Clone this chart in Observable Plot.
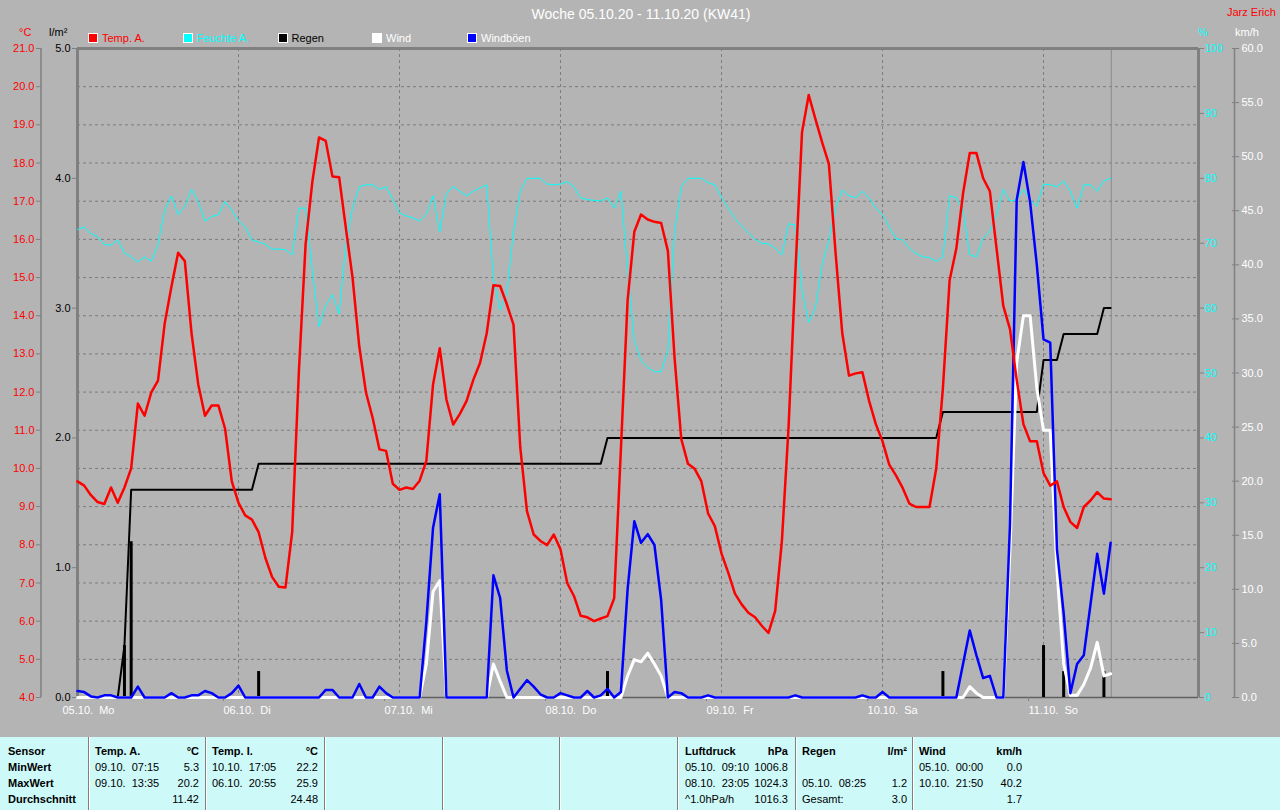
<!DOCTYPE html>
<html>
<head>
<meta charset="utf-8">
<script src="https://cdn.jsdelivr.net/npm/d3@7"></script>
<script src="https://cdn.jsdelivr.net/npm/@observablehq/plot@0.6"></script>
<style>
  html, body { margin: 0; padding: 0; background: #b4b4b4; }
  #wrap { position: relative; width: 1280px; height: 810px; overflow: hidden; background: #b4b4b4;
          font-family: "Liberation Sans", Arial, sans-serif; }
  #wrap svg { position: absolute; left: 0; top: 0; overflow: visible; }
  #wrap svg text { white-space: pre; }
  .abs { position: absolute; white-space: pre; font-size: 11px; line-height: 12px; }
  .sq { position: absolute; width: 8px; height: 8px; border: 1px solid #fff; }
  #table { position: absolute; left: 0; top: 737px; width: 1280px; height: 73px; background: #cdf9f9; }
  .sep { position: absolute; top: 0; width: 1px; height: 73px; background: #7f7f7f; border-right: 1px solid #fff; }
  .cell { position: absolute; font-size: 11px; line-height: 16px; white-space: pre; color: #000; }
</style>
</head>
<body>
<div id="wrap"></div>
<script>
// ---------------- data (hourly values from 05.10. 00:00) ----------------
const title = "Woche 05.10.20 - 11.10.20 (KW41)";
const author = "Jarz Erich";
const seriesNames = ["Temp. A.", "Feuchte A.", "Regen", "Wind", "Windböen"];
const seriesColors = ["#ff0000", "#00ffff", "#000000", "#ffffff", "#0000ff"];
const legendTextColors = ["#ff0000", "#00ffff", "#000000", "#ffffff", "#ffffff"];

const dayTicks = [0, 24, 48, 72, 96, 120, 144];
const dayLabels = ["05.10.  Mo", "06.10.  Di", "07.10.  Mi", "08.10.  Do", "09.10.  Fr", "10.10.  Sa", "11.10.  So"];
const xEnd = 167.1;      // right edge of the plot, hours
const nowHour = 154.1;   // grey "now" marker

const tempTicks = [4, 5, 6, 7, 8, 9, 10, 11, 12, 13, 14, 15, 16, 17, 18, 19, 20, 21];
const rainTicks = [0, 1, 2, 3, 4, 5];
const humTicks = [0, 10, 20, 30, 40, 50, 60, 70, 80, 90, 100];
const windTicks = [0, 5, 10, 15, 20, 25, 30, 35, 40, 45, 50, 55, 60];

const temperature = [
  9.66, 9.55, 9.30, 9.12, 9.07, 9.5, 9.1, 9.5, 10.0, 11.7,
  11.38, 11.99, 12.3, 13.8, 14.76, 15.65, 15.43, 13.54, 12.2, 11.38,
  11.65, 11.65, 11.04, 9.66, 9.1, 8.77, 8.66, 8.33, 7.66, 7.16,
  6.9, 6.88, 8.33, 12.54, 15.87, 17.5, 18.67, 18.58, 17.65, 17.63,
  16.3, 15.0, 13.2, 11.99, 11.32, 10.5, 10.46, 9.6, 9.44, 9.5,
  9.46, 9.68, 10.2, 12.2, 13.15, 11.8, 11.15, 11.43, 11.77, 12.32,
  12.76, 13.54, 14.8, 14.78, 14.3, 13.76, 10.55, 8.88, 8.27, 8.1,
  7.99, 8.27, 7.88, 7.0, 6.66, 6.14, 6.1, 6.0, 6.07, 6.13,
  6.6, 10.5, 14.4, 16.2, 16.65, 16.52, 16.46, 16.43, 15.7, 12.9,
  10.77, 10.12, 9.99, 9.66, 8.82, 8.49, 7.77, 7.27, 6.72, 6.44,
  6.22, 6.1, 5.88, 5.69, 6.27, 8.1, 11.1, 15.1, 18.81, 19.78,
  19.15, 18.54, 17.98, 15.65, 13.54, 12.43, 12.49, 12.52, 11.77, 11.16,
  10.71, 10.1, 9.82, 9.49, 9.08, 8.99, 8.99, 8.99, 9.99, 12.1,
  14.93, 15.76, 17.2, 18.26, 18.26, 17.6, 17.26, 15.76, 14.26, 13.65,
  12.32, 11.16, 10.71, 10.71, 9.88, 9.55, 9.66, 8.99, 8.6, 8.44,
  8.99, 9.16, 9.38, 9.21, 9.19
];
const humidity = [
  72.1, 72.5, 71.5, 71.0, 69.8, 69.7, 70.5, 68.5, 67.9, 67.1,
  67.9, 67.2, 69.8, 75.1, 77.3, 74.4, 75.7, 78.3, 76.4, 73.4,
  74.1, 74.4, 76.4, 75.1, 73.4, 72.5, 70.5, 70.2, 69.8, 69.1,
  69.1, 69.0, 68.2, 75.4, 75.4, 65.9, 57.1, 60.4, 62.1, 59.1,
  69.8, 75.4, 78.7, 79.0, 79.0, 78.3, 78.7, 76.7, 74.7, 74.2,
  73.9, 73.4, 74.4, 77.3, 71.7, 77.7, 78.7, 78.0, 77.3, 78.0,
  78.5, 79.0, 64.6, 59.7, 62.3, 71.8, 78.0, 80.0, 80.0, 80.0,
  79.1, 79.0, 79.1, 79.5, 78.7, 77.0, 76.7, 76.6, 76.5, 77.0,
  75.4, 78.0, 65.9, 55.0, 51.9, 50.9, 50.2, 50.2, 53.5, 71.8,
  78.7, 80.0, 80.0, 80.0, 79.3, 79.0, 77.0, 75.4, 73.8, 72.6,
  71.6, 70.6, 70.0, 69.9, 69.2, 68.2, 73.0, 72.8, 62.7, 57.8,
  60.1, 66.6, 70.5, 75.4, 78.2, 77.3, 77.0, 78.0, 77.0, 75.4,
  74.4, 72.5, 70.7, 70.5, 69.2, 68.4, 67.9, 67.8, 67.2, 67.9,
  77.3, 77.0, 75.1, 68.2, 67.9, 70.8, 71.8, 74.4, 78.3, 76.5,
  76.7, 78.3, 76.7, 75.7, 79.1, 79.0, 78.7, 79.6, 78.0, 75.4,
  79.0, 79.0, 78.0, 79.6, 80.0
];
const rainTotal = [
  0, 0, 0, 0, 0, 0, 0, 0.4, 1.6, 1.6,
  1.6, 1.6, 1.6, 1.6, 1.6, 1.6, 1.6, 1.6, 1.6, 1.6,
  1.6, 1.6, 1.6, 1.6, 1.6, 1.6, 1.6, 1.8, 1.8, 1.8,
  1.8, 1.8, 1.8, 1.8, 1.8, 1.8, 1.8, 1.8, 1.8, 1.8,
  1.8, 1.8, 1.8, 1.8, 1.8, 1.8, 1.8, 1.8, 1.8, 1.8,
  1.8, 1.8, 1.8, 1.8, 1.8, 1.8, 1.8, 1.8, 1.8, 1.8,
  1.8, 1.8, 1.8, 1.8, 1.8, 1.8, 1.8, 1.8, 1.8, 1.8,
  1.8, 1.8, 1.8, 1.8, 1.8, 1.8, 1.8, 1.8, 1.8, 2.0,
  2.0, 2.0, 2.0, 2.0, 2.0, 2.0, 2.0, 2.0, 2.0, 2.0,
  2.0, 2.0, 2.0, 2.0, 2.0, 2.0, 2.0, 2.0, 2.0, 2.0,
  2.0, 2.0, 2.0, 2.0, 2.0, 2.0, 2.0, 2.0, 2.0, 2.0,
  2.0, 2.0, 2.0, 2.0, 2.0, 2.0, 2.0, 2.0, 2.0, 2.0,
  2.0, 2.0, 2.0, 2.0, 2.0, 2.0, 2.0, 2.0, 2.0, 2.2,
  2.2, 2.2, 2.2, 2.2, 2.2, 2.2, 2.2, 2.2, 2.2, 2.2,
  2.2, 2.2, 2.2, 2.2, 2.6, 2.6, 2.6, 2.8, 2.8, 2.8,
  2.8, 2.8, 2.8, 3.0, 3.0
];
const rainHours = [7, 8, 27, 79, 129, 144, 147, 153];
const rainAmounts = [0.4, 1.2, 0.2, 0.2, 0.2, 0.4, 0.2, 0.2];
const wind = [
  0, 0, 0, 0, 0, 0, 0, 0, 0, 0,
  0, 0, 0, 0, 0, 0, 0, 0, 0, 0,
  0, 0, 0, 0, 0, 0, 0, 0, 0, 0,
  0, 0, 0, 0, 0, 0, 0, 0, 0, 0,
  0, 0, 0, 0, 0, 0, 0, 0, 0, 0,
  0, 0, 3.1, 9.8, 10.8, 0, 0, 0, 0, 0,
  0, 0, 3.1, 1.5, 0, 0, 0, 0, 0, 0,
  0, 0, 0, 0, 0, 0, 0, 0, 0, 0,
  0, 0, 2.0, 3.5, 3.3, 4.1, 3.1, 2.0, 0, 0,
  0, 0, 0, 0, 0, 0, 0, 0, 0, 0,
  0, 0, 0, 0, 0, 0, 0, 0, 0, 0,
  0, 0, 0, 0, 0, 0, 0, 0, 0, 0,
  0, 0, 0, 0, 0, 0, 0, 0, 0, 0,
  0, 0, 0, 1.0, 0.4, 0, 0, 0, 0, 13.7,
  31.0, 35.3, 35.3, 28.6, 24.7, 24.7, 11.8, 3.1, 0.2, 0.2,
  1.2, 2.7, 5.1, 2.0, 2.2
];
const gusts = [
  0.6, 0.5, 0.1, 0, 0.2, 0.2, 0, 0, 0, 1.0,
  0, 0, 0, 0, 0.4, 0, 0, 0.2, 0.2, 0.6,
  0.4, 0, 0, 0.4, 1.1, 0, 0, 0, 0, 0,
  0, 0, 0, 0, 0, 0, 0, 0.7, 0.7, 0,
  0, 0, 1.25, 0, 0, 1.0, 0.4, 0, 0, 0,
  0, 0, 7.0, 15.7, 18.8, 0, 0, 0, 0, 0,
  0, 0, 11.3, 9.2, 2.5, 0, 0.8, 1.6, 1.0, 0.3,
  0, 0, 0.4, 0.2, 0, 0, 0.6, 0, 0.2, 0.8,
  0, 0.5, 10.0, 16.3, 14.3, 15.1, 14.1, 9.0, 0, 0.5,
  0.4, 0, 0, 0, 0.2, 0, 0, 0, 0, 0,
  0, 0, 0, 0, 0, 0, 0, 0.2, 0, 0,
  0, 0, 0, 0, 0, 0, 0, 0.2, 0, 0,
  0.5, 0, 0, 0, 0, 0, 0, 0, 0, 0,
  0, 0, 3.1, 6.2, 3.9, 1.8, 2.0, 0, 0, 16.0,
  46.0, 49.5, 45.8, 40.0, 33.1, 32.8, 13.7, 7.8, 0.4, 3.1,
  3.9, 8.6, 13.3, 9.6, 14.3
];

// summary table
const tableRowLabels = ["Sensor", "MinWert", "MaxWert", "Durchschnitt"];
const tableSeparators = [88, 205, 324, 442, 559, 677, 795, 912];
const tableColumns = [
  { left: 95,  right: 199,  rows: [["Temp. A.", "°C"], ["09.10.  07:15", "5.3"], ["09.10.  13:35", "20.2"], ["", "11.42"]] },
  { left: 212, right: 318,  rows: [["Temp. I.", "°C"], ["10.10.  17:05", "22.2"], ["06.10.  20:55", "25.9"], ["", "24.48"]] },
  { left: 685, right: 788,  rows: [["Luftdruck", "hPa"], ["05.10.  09:10", "1006.8"], ["08.10.  23:05", "1024.3"], ["^1.0hPa/h", "1016.3"]] },
  { left: 802, right: 907,  rows: [["Regen", "l/m²"], ["", ""], ["05.10.  08:25", "1.2"], ["Gesamt:", "3.0"]] },
  { left: 919, right: 1022, rows: [["Wind", "km/h"], ["05.10.  00:00", "0.0"], ["10.10.  21:50", "40.2"], ["", "1.7"]] }
];

// ---------------- build ----------------
const rows = temperature.map((t, i) => ({
  h: i, temp: t, hum: humidity[i], rain: rainTotal[i], wind: wind[i], gust: gusts[i]
}));
const rainBars = rainHours.map((h, i) => ({ h, amount: rainAmounts[i] }));

const wrap = document.getElementById("wrap");
const GRID = "#7c7c7c";
const FRAME = "#808080";

function frameOpts(extra) {
  return Object.assign({
    width: 1280, height: 735,
    marginLeft: 77, marginRight: 82, marginTop: 48, marginBottom: 38,
    x: { domain: [0, xEnd], axis: null, label: null },
    style: { background: "transparent", overflow: "visible",
             fontFamily: "Liberation Sans, Arial, sans-serif", fontSize: "11px" }
  }, extra);
}

// 1) base: grid, frame, x axis, temperature axis
const basePlot = Plot.plot(frameOpts({
  x: { domain: [0, xEnd], label: null },
  y: { domain: [4, 21], label: null },
  marks: [
    Plot.gridY(tempTicks.slice(1, -1), { stroke: GRID, strokeOpacity: 1, strokeDasharray: "3,3" }),
    Plot.gridX(dayTicks.slice(1), { stroke: GRID, strokeOpacity: 1, strokeDasharray: "3,3" }),
    Plot.ruleX([nowHour], { stroke: "#8a8a8a", strokeWidth: 1 }),
    Plot.ruleY([21], { stroke: FRAME, strokeWidth: 3 }),
    Plot.ruleY([4], { stroke: "#606060", strokeWidth: 1.5 }),
    Plot.ruleX([xEnd], { y1: 4, y2: 21, stroke: FRAME, strokeWidth: 3 }),
    Plot.axisX(dayTicks, {
      label: null,
      tickFormat: d => dayLabels[dayTicks.indexOf(d)],
      tickSize: 4, tickPadding: 5, textAnchor: "start", dx: -15,
      fill: "#ffffff", stroke: FRAME, fontSize: 11
    }),
    Plot.ruleX([0], { y1: 4, y2: 21, dx: -36.5, stroke: FRAME, strokeWidth: 1.5 }),
    Plot.axisY(tempTicks, {
      label: null,
      anchor: "left", dx: -36, tickSize: 5, tickPadding: 2,
      tickFormat: d => d.toFixed(1), fill: "#ff0000", stroke: FRAME, fontSize: 11
    })
  ]
}));
wrap.appendChild(basePlot);

// 2) rain (l/m²)
const rainPlot = Plot.plot(frameOpts({
  y: { domain: [0, 5], label: null },
  marks: [
    Plot.ruleX([0], { y1: 0, y2: 5, stroke: FRAME, strokeWidth: 3 }),
    Plot.axisY(rainTicks, {
      label: null,
      anchor: "left", tickSize: 5, tickPadding: 2,
      tickFormat: d => d.toFixed(1), fill: "#000000", stroke: FRAME, fontSize: 11
    }),
    Plot.ruleX(rainBars, { x: "h", y1: 0, y2: "amount", stroke: "#000", strokeWidth: 3 }),
    Plot.line(rows, { x: "h", y: "rain", stroke: "#000", strokeWidth: 2 })
  ]
}));
wrap.appendChild(rainPlot);

// 3) humidity (%)
const humPlot = Plot.plot(frameOpts({
  y: { domain: [0, 100], label: null },
  marks: [
    Plot.axisY(humTicks, {
      label: null,
      anchor: "right", tickSize: 5, tickPadding: 1,
      fill: "#00ffff", stroke: FRAME, fontSize: 11
    }),
    Plot.line(rows, { x: "h", y: "hum", stroke: "#00ffff", strokeWidth: 1 })
  ]
}));
wrap.appendChild(humPlot);

// 4) wind and gusts (km/h)
const windPlot = Plot.plot(frameOpts({
  y: { domain: [0, 60], label: null },
  marks: [
    Plot.ruleX([xEnd], { y1: 0, y2: 60, dx: 36, stroke: FRAME, strokeWidth: 1.5 }),
    Plot.axisY(windTicks, {
      label: null,
      anchor: "right", dx: 33, tickSize: 7, tickPadding: 3,
      tickFormat: d => d.toFixed(1), fill: "#ffffff", stroke: FRAME, fontSize: 11
    }),
    Plot.line(rows, { x: "h", y: "wind", stroke: "#ffffff", strokeWidth: 3 }),
    Plot.line(rows, { x: "h", y: "gust", stroke: "#0000ff", strokeWidth: 2.5 })
  ]
}));
wrap.appendChild(windPlot);

// 5) outdoor temperature line on top
const tempPlot = Plot.plot(frameOpts({
  y: { domain: [4, 21], axis: null, label: null },
  marks: [
    Plot.line(rows, { x: "h", y: "temp", stroke: "#ff0000", strokeWidth: 2.5 })
  ]
}));
wrap.appendChild(tempPlot);

// ---------------- texts: title, legend, units ----------------
function addText(txt, left, top, color, size, extra) {
  const d = document.createElement("div");
  d.className = "abs";
  d.textContent = txt;
  d.style.left = left + "px";
  d.style.top = top + "px";
  d.style.color = color;
  if (size) { d.style.fontSize = size + "px"; d.style.lineHeight = (size + 2) + "px"; }
  if (extra) Object.assign(d.style, extra);
  wrap.appendChild(d);
  return d;
}
addText(title, 440, 6, "#ffffff", 14, { width: "402px", textAlign: "center" });
addText(author, 1227, 6, "#ff0000", 11);
addText("°C", 19, 26, "#ff0000", 11);
addText("l/m²", 49, 26, "#000000", 11);
addText("%", 1198, 26, "#00ffff", 11);
addText("km/h", 1235, 26, "#ffffff", 11);

const legendSquareX = [88, 182.5, 277.5, 372, 467];
seriesNames.forEach((name, i) => {
  const sq = document.createElement("div");
  sq.className = "sq";
  sq.style.left = legendSquareX[i] + "px";
  sq.style.top = "33px";
  sq.style.background = seriesColors[i];
  wrap.appendChild(sq);
  addText(name, legendSquareX[i] + 14, 32, legendTextColors[i], 11);
});

// ---------------- summary table ----------------
const table = document.createElement("div");
table.id = "table";
wrap.appendChild(table);
tableSeparators.forEach(x => {
  const s = document.createElement("div");
  s.className = "sep";
  s.style.left = x + "px";
  table.appendChild(s);
});
function cell(txt, left, top, bold, alignRight) {
  const c = document.createElement("div");
  c.className = "cell";
  c.textContent = txt;
  c.style.top = top + "px";
  if (alignRight) { c.style.right = (1280 - left) + "px"; c.style.textAlign = "right"; }
  else c.style.left = left + "px";
  if (bold) c.style.fontWeight = "bold";
  table.appendChild(c);
}
tableRowLabels.forEach((lab, r) => cell(lab, 8, 6 + r * 16, true, false));
tableColumns.forEach(col => {
  col.rows.forEach((pair, r) => {
    const bold = r === 0;
    if (pair[0]) cell(pair[0], col.left, 6 + r * 16, bold, false);
    if (pair[1]) cell(pair[1], col.right, 6 + r * 16, bold, true);
  });
});
</script>
</body>
</html>
